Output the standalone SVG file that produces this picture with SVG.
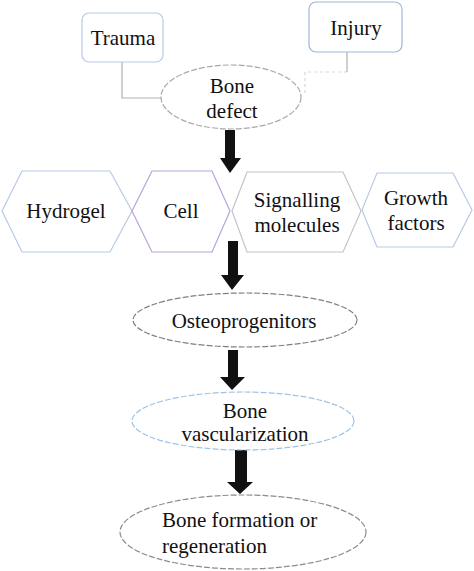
<svg xmlns="http://www.w3.org/2000/svg" width="474" height="571" viewBox="0 0 474 571">
<style>
text{font-family:'Liberation Serif','Times New Roman','DejaVu Serif',serif;font-size:21px;fill:#111;text-anchor:middle}
.box{fill:#fff;stroke-width:1.2}
.ell{fill:#fff;stroke-width:1.2;stroke-dasharray:6 2}
.hex{fill:#fff;stroke-width:1.2}
.conn{fill:none;stroke:#b0b0b0;stroke-width:1.2}
.arr{fill:#111}
</style>
<rect width="474" height="571" fill="#fff"/>
<g id="connectors">
<path class="conn" d="M122,62 V98 H162"/>
<path class="conn" d="M347,52 V72"/>
<path class="conn" d="M347,72 H305 V93" stroke-dasharray="3 3" opacity="0.5"/>
<path class="arr" d="M225,130 H235 V158 H241 L230,173 L220,158 H225 Z"/>
<path class="arr" d="M228,241 H238 V275 H244 L232,290 L221,275 H228 Z"/>
<path class="arr" d="M228,350 H238 V377 H245 L232,390 L220,377 H228 Z"/>
<path class="arr" d="M235,450 H247 V482 H253 L240,494 L227,482 H235 Z"/>
</g>
<g id="trauma" font-family="Liberation Serif, serif">
<rect class="box" x="82" y="13" width="81" height="49" rx="7" stroke="#b8c9e6"/>
<text x="123" y="45">Trauma</text>
</g>
<g id="injury">
<rect class="box" x="309" y="2" width="93" height="50" rx="7" stroke="#9fb5d9"/>
<text x="356" y="35">Injury</text>
</g>
<g id="bone-defect">
<ellipse class="ell" cx="231" cy="97" rx="70" ry="32" stroke="#a8a8a8"/>
<text x="232" y="93">Bone</text>
<text x="232" y="118">defect</text>
</g>
<g id="hydrogel">
<polygon class="hex" points="2,211 22,171 110,171 132,211 110,252 22,252" stroke="#b8c9e6"/>
<text x="66" y="218">Hydrogel</text>
</g>
<g id="cell">
<polygon class="hex" points="132,211 152,171 212,171 230,211 212,252 152,252" stroke="#b9a2dc"/>
<text x="181" y="218">Cell</text>
</g>
<g id="signalling">
<polygon class="hex" points="232,211 247,172 343,172 361,211 343,252 247,252" stroke="#c4c4c4"/>
<text x="297" y="207">Signalling</text>
<text x="297" y="232">molecules</text>
</g>
<g id="growth">
<polygon class="hex" points="362,210 377,173 453,173 472,210 453,247 377,247" stroke="#b8c9e6"/>
<text x="416" y="205">Growth</text>
<text x="416" y="230">factors</text>
</g>
<g id="osteoprogenitors">
<ellipse class="ell" cx="245" cy="320" rx="112" ry="27" stroke="#808080"/>
<text x="244" y="328">Osteoprogenitors</text>
</g>
<g id="vascularization">
<ellipse class="ell" cx="243" cy="421" rx="111" ry="29" stroke="#9ec3e6"/>
<text x="245" y="418">Bone</text>
<text x="245" y="441">vascularization</text>
</g>
<g id="bone-formation">
<ellipse class="ell" cx="243" cy="532" rx="123" ry="37" stroke="#8c8c8c"/>
<text x="162" y="527" style="text-anchor:start">Bone formation or</text>
<text x="162" y="553" style="text-anchor:start">regeneration</text>
</g>
</svg>
